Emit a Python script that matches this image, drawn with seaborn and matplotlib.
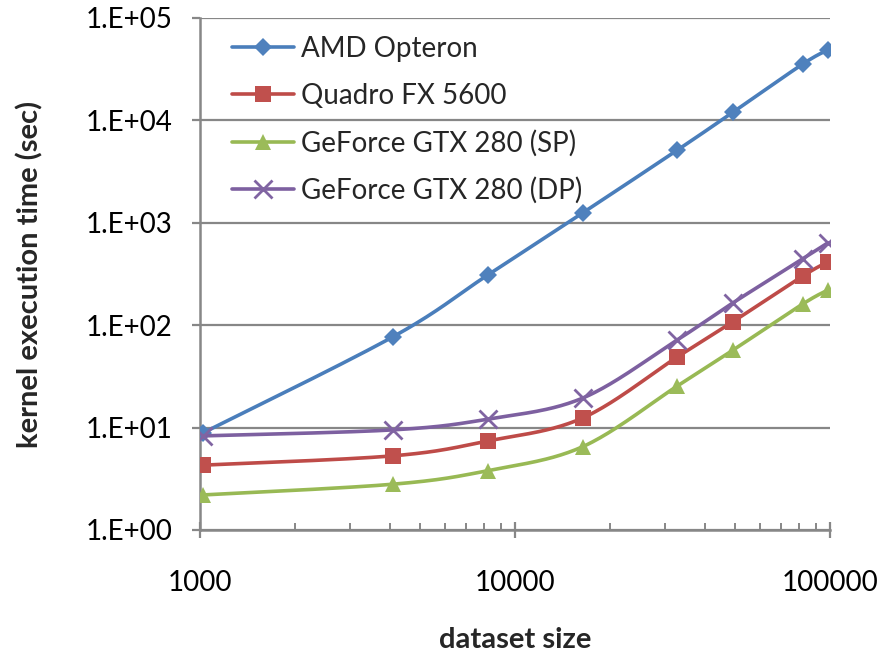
import numpy as np
import pandas as pd
import matplotlib
matplotlib.use("Agg")
import matplotlib.pyplot as plt
import seaborn as sns
from matplotlib.lines import Line2D
from matplotlib.ticker import FixedLocator, FuncFormatter, NullFormatter

# ---------------- data ----------------
sizes = [1024, 4096, 8192, 16384, 32768, 49152, 81920, 98304]
amd_opteron = [8.9, 77, 309, 1247, 5130, 12000, 35500, 48700]
quadro_fx5600 = [4.3, 5.3, 7.4, 12.4, 49, 108, 302, 414]
gtx280_sp = [2.2, 2.8, 3.8, 6.5, 25.5, 57, 161, 220]
gtx280_dp = [8.3, 9.5, 12.1, 19.4, 72, 165, 445, 635]
series_names = ["AMD Opteron", "Quadro FX 5600", "GeForce GTX 280 (SP)", "GeForce GTX 280 (DP)"]
series_values = [amd_opteron, quadro_fx5600, gtx280_sp, gtx280_dp]
x_ticks = [1000, 10000, 100000]
y_ticks = [1, 10, 100, 1000, 10000, 100000]

colors = ["#4A7EBB", "#BE4B48", "#98B954", "#7D60A0"]
mcolors = ["#4F81BD", "#C0504D", "#9BBB59", "#8064A2"]
markers = ["D", "s", "^", "x"]
msizes = [9, 11, 11, 13]

sns.set_theme(style="white")
plt.rcParams["font.family"] = ["Lato", "DejaVu Sans"]
FS = 20

fig = plt.figure(figsize=(8.82, 6.57), dpi=100)
ax = fig.add_axes([200 / 882, 1 - 530 / 657, 630 / 882, 512 / 657])


def smooth(xs, ys, n=40):
    """Excel-like smoothed line (Catmull-Rom Bezier) in log-log space."""
    lx = np.log10(np.asarray(xs, float))
    ly = np.log10(np.asarray(ys, float))
    P = np.column_stack([lx, ly])
    Pext = np.vstack([P[0], P, P[-1]])
    out = []
    t = np.linspace(0, 1, n)[:, None]
    for i in range(len(P) - 1):
        p0 = Pext[i + 1]
        p3 = Pext[i + 2]
        c1 = p0 + (Pext[i + 2] - Pext[i]) / 6.0
        c2 = p3 - (Pext[i + 3] - Pext[i + 1]) / 6.0
        seg = ((1 - t) ** 3) * p0 + 3 * ((1 - t) ** 2) * t * c1 + 3 * (1 - t) * t ** 2 * c2 + t ** 3 * p3
        out.append(seg if i == 0 else seg[1:])
    seg = np.vstack(out)
    return 10 ** seg[:, 0], 10 ** seg[:, 1]


handles = []
for k, (name, vals) in enumerate(zip(series_names, series_values)):
    sx, sy = smooth(sizes, vals)
    line_df = pd.DataFrame({"x": sx, "y": sy})
    sns.lineplot(data=line_df, x="x", y="y", ax=ax, color=colors[k], lw=2.6,
                 sort=False, estimator=None, zorder=3 + k)
    pts = pd.DataFrame({"x": sizes, "y": vals})
    if markers[k] == "x":
        ax.plot(pts["x"], pts["y"], ls="none", marker="x", ms=msizes[k], mew=2.0,
                color=mcolors[k], zorder=3 + k)
    else:
        ax.plot(pts["x"], pts["y"], ls="none", marker=markers[k], ms=msizes[k], mew=0,
                color=mcolors[k], zorder=3 + k)
    handles.append(Line2D([0], [0], color=colors[k], lw=2.6, marker=markers[k],
                          ms=msizes[k], mew=2.0 if markers[k] == "x" else 0,
                          mfc=mcolors[k], mec=mcolors[k]))

ax.set_xscale("log")
ax.set_yscale("log")
ax.set_xlim(1000, 100000)
ax.set_ylim(1, 100000)

grid_c = "#878787"
ax.yaxis.set_major_locator(FixedLocator(y_ticks))
ax.yaxis.set_minor_locator(FixedLocator([]))
ax.yaxis.set_major_formatter(FuncFormatter(lambda v, p: f"1.E+{int(round(np.log10(v))):02d}"))
ax.xaxis.set_major_locator(FixedLocator(x_ticks))
ax.xaxis.set_major_formatter(FuncFormatter(lambda v, p: f"{int(v)}"))
minor = [m * 10 ** e for e in (3, 4) for m in range(2, 10)]
ax.xaxis.set_minor_locator(FixedLocator(minor))
ax.xaxis.set_minor_formatter(NullFormatter())

ax.grid(False)
ax.yaxis.grid(True, which="major", color=grid_c, lw=1.6, zorder=1)
ax.set_axisbelow(True)
for s in ("top", "right"):
    ax.spines[s].set_visible(False)
for s in ("left", "bottom"):
    ax.spines[s].set_color(grid_c)
    ax.spines[s].set_linewidth(1.8)

ax.tick_params(axis="y", which="major", direction="out", length=6, width=1.6,
               color=grid_c, pad=14, labelsize=FS, labelcolor="black", left=True)
ax.tick_params(axis="x", which="major", direction="inout", length=11, width=1.6,
               color=grid_c, pad=23, labelsize=FS, labelcolor="black", bottom=True)
ax.tick_params(axis="x", which="minor", direction="in", length=5, width=1.4,
               color=grid_c, bottom=True)

ax.set_xlabel("dataset size", fontsize=FS + 1, fontweight="bold", va="center")
ax.xaxis.set_label_coords(0.5, -0.215)
ax.set_ylabel("kernel execution time (sec)", fontsize=FS + 1, fontweight="bold", va="center")
ax.yaxis.set_label_coords(-0.27, 0.5)

leg = ax.legend(handles, series_names, loc="upper left", bbox_to_anchor=(0.033, 0.987),
                frameon=False, fontsize=FS, handlelength=2.25, handletextpad=0.25,
                labelspacing=0.75, borderaxespad=0)

fig.savefig("out.png", dpi=100)
